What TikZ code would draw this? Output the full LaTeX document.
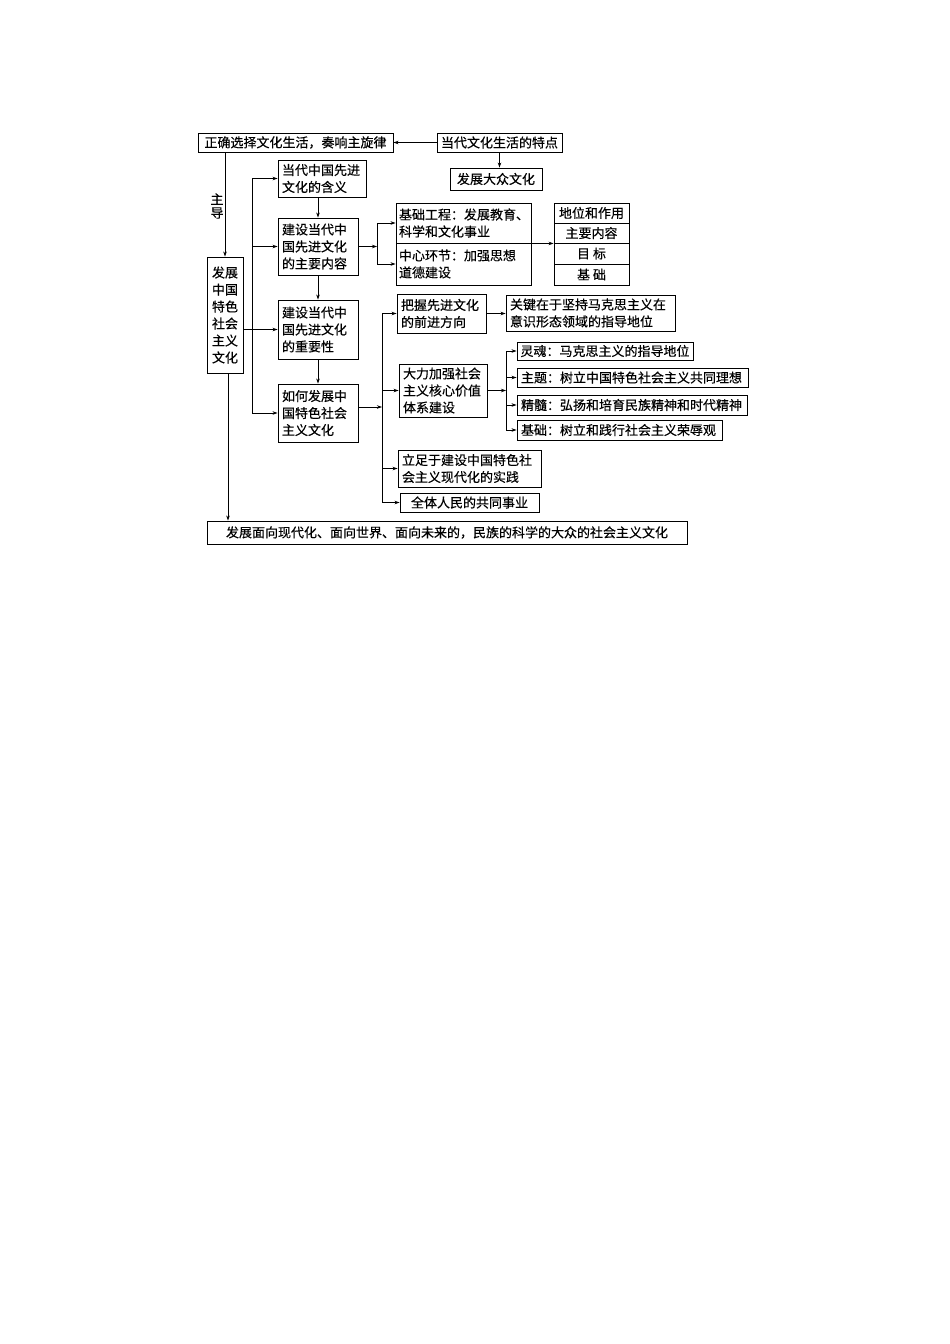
\documentclass[tikz,border=0pt]{standalone}
\usepackage{fontspec}
\setmainfont{Noto Sans CJK SC}
\newfontfamily\boxfont{Noto Sans CJK SC}[FakeBold = 0.4]
\usetikzlibrary{arrows.meta}

\tikzset{
  box/.style = {draw, line width = 0.9pt, inner xsep = 4pt, inner ysep = 0pt, align = left,
    font = \boxfont\fontsize{13}{17}\selectfont},
  cbox/.style = {box, align = center},
}

\begin{document}
\begin{tikzpicture}[x = 1pt, y = -1pt, line width = 0.7pt, >={Stealth[length = 5pt, width = 3.5pt]}]

      \useasboundingbox (0, 0) rectangle (950, 1344);

      \node[cbox, minimum width = 195pt, minimum height = 19pt] (zq) at (295.5, 142.5) {正确选择文化生活，奏响主旋律};
      \node[cbox, minimum width = 125pt, minimum height = 19pt] (td) at (499.5, 142.5) {当代文化生活的特点};
      \node[cbox, minimum width = 92pt, minimum height = 22pt] (dz) at (496, 179) {发展大众文化};
      \node[cbox, minimum width = 36pt, minimum height = 116pt] (fz) at (225, 315) {发展\\中国\\特色\\社会\\主义\\文化};
      \node[align = center, font = \boxfont\fontsize{13}{13.5}\selectfont] (zd) at (217, 206) {主\\导};

      \node[box, text width = 80pt, minimum height = 37pt] (hy) at (322, 178.5) {当代中国先进\\文化的含义};
      \node[box, text width = 72pt, minimum height = 57pt] (nr) at (318, 246.5) {建设当代中\\国先进文化\\的主要内容};
      \node[box, text width = 72pt, minimum height = 59pt] (zy) at (318, 329.5) {建设当代中\\国先进文化\\的重要性};
      \node[box, text width = 72pt, minimum height = 58pt] (rh) at (318, 413) {如何发展中\\国特色社会\\主义文化};

      \node[box, inner xsep = 3pt, text width = 129pt, minimum height = 40pt] (jcgc) at (463.5, 223) {基础工程：发展教育、\\科学和文化事业};
      \node[box, inner xsep = 3pt, text width = 129pt, minimum height = 42pt] (zxhj) at (463.5, 264) {中心环节：加强思想\\道德建设};

      \node[cbox, minimum width = 75pt, minimum height = 20pt] (r1) at (591.5, 213) {地位和作用};
      \node[cbox, minimum width = 75pt, minimum height = 20pt] (r2) at (591.5, 233) {主要内容};
      \node[cbox, minimum width = 75pt, minimum height = 21pt] (r3) at (591.5, 253.5) {目 标};
      \node[cbox, minimum width = 75pt, minimum height = 21pt] (r4) at (591.5, 274.5) {基 础};

      \node[box, text width = 81pt, minimum height = 39pt] (bw) at (441.5, 313.5) {把握先进文化\\的前进方向};
      \node[box, text width = 161pt, minimum height = 36pt] (gj) at (590.5, 313) {关键在于坚持马克思主义在\\意识形态领域的指导地位};
      \node[box, text width = 80pt, minimum height = 53pt] (dl) at (443, 390.5) {大力加强社会\\主义核心价值\\体系建设};

      \node[box, inner xsep = 3.5pt, text width = 169pt, minimum height = 18pt] (lh) at (605, 351) {灵魂：马克思主义的指导地位};
      \node[box, text width = 223pt, minimum height = 19pt] (zt) at (632.5, 377.5) {主题：树立中国特色社会主义共同理想};
      \node[box, text width = 222pt, minimum height = 20pt] (js) at (632, 405) {精髓：弘扬和培育民族精神和时代精神};
      \node[box, text width = 197pt, minimum height = 20pt] (jcs) at (619.5, 430) {基础：树立和践行社会主义荣辱观};

      \node[box, text width = 135pt, minimum height = 37pt] (lz) at (469.5, 468.5) {立足于建设中国特色社\\会主义现代化的实践};
      \node[cbox, minimum width = 139pt, minimum height = 19pt] (qt) at (469.5, 502.5) {全体人民的共同事业};
      \node[cbox, minimum width = 480pt, minimum height = 23pt] (bt) at (447, 532.5) {发展面向现代化、面向世界、面向未来的，民族的科学的大众的社会主义文化};

      \coordinate (tr) at (252, 0);
      \coordinate (s1) at (377, 0);
      \coordinate (s2) at (382, 0);
      \coordinate (s3) at (506, 0);

      \draw[->] (td) -- (zq);
      \draw[->] (td.south) -- (td.south |- dz.north);
      \draw[->] (zq.south -| fz.north) -- (fz.north);
      \draw[->] ([xshift = 3pt]fz.south) -- ([xshift = 3pt]fz.south |- bt.north);

      \draw (tr |- hy.west) -- (tr |- rh.west);
      \draw[->] (tr |- hy.west) -- (hy.west);
      \draw[->] (tr |- nr.west) -- (nr.west);
      \draw[->] (fz.east |- zy.west) -- (zy.west);
      \draw[->] (tr |- rh.west) -- (rh.west);

      \draw[->] (hy.south -| nr.north) -- (nr.north);
      \draw[->] (nr) -- (zy);
      \draw[->] (zy) -- (rh);

      \draw[->] (nr.east) -- (nr.east -| s1);
      \draw (s1 |- jcgc.west) -- (s1 |- zxhj.west);
      \draw[->] (s1 |- jcgc.west) -- (jcgc.west);
      \draw[->] (s1 |- zxhj.west) -- (zxhj.west);
      \draw[->] (jcgc.south east) -- (r2.south west);

      \draw[->] ([yshift = 6pt]rh.east) -- ([yshift = 6pt]rh.east -| s2);
      \draw (s2 |- bw.west) -- (s2 |- qt.west);
      \draw[->] (s2 |- bw.west) -- (bw.west);
      \draw[->] (s2 |- dl.west) -- (dl.west);
      \draw[->] (s2 |- lz.west) -- (lz.west);
      \draw[->] (s2 |- qt.west) -- (qt.west);
      \draw[->] (bw.east) -- (bw.east -| gj.west);

      \draw[->] (dl.east) -- (dl.east -| s3);
      \draw (s3 |- lh.west) -- (s3 |- jcs.west);
      \draw[->] (s3 |- lh.west) -- (lh.west);
      \draw[->] (s3 |- zt.west) -- (zt.west);
      \draw[->] (s3 |- js.west) -- (js.west);
      \draw[->] (s3 |- jcs.west) -- (jcs.west);

    \end{tikzpicture}
\end{document}
